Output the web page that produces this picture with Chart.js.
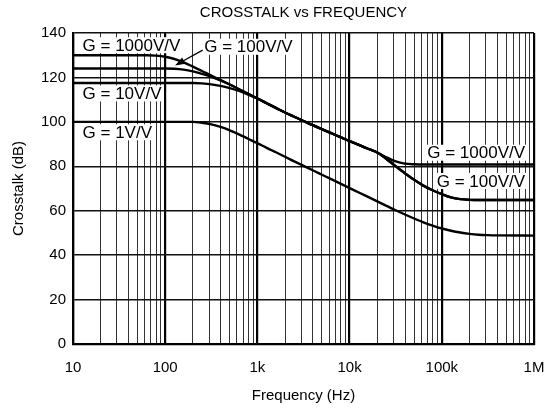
<!DOCTYPE html>
<html>
<head>
<meta charset="utf-8">
<script src="https://cdn.jsdelivr.net/npm/chart.js@4.4.0/dist/chart.umd.min.js"></script>
<style>
html, body { margin: 0; padding: 0; background: #fff; }
</style>
</head>
<body>
<canvas id="grafico" width="551" height="412"></canvas>
<script>
// frequencias (Hz) usadas por todas as curvas
const freq = [10, 63, 79, 100, 126, 158, 200, 251, 316, 398, 501, 631, 794,
  1000, 1259, 1585, 1995, 2512, 3162, 3981, 5012, 6310, 7943,
  10000, 12589, 15849, 19953, 25119, 31623, 39811, 50119, 63096, 79433,
  100000, 125893, 158489, 199526, 251189, 316228, 398107, 1000000];

// crosstalk (dB) para cada ganho
const g1000 = [130, 130, 129.8, 129.3, 128.3, 126.8, 124.9, 122.9, 120.8, 118.8, 116.8, 114.7, 112.6,
  110.5, 108.4, 106.3, 104.2, 102.3, 100.4, 98.5, 96.7, 94.9, 93.1,
  91.3, 89.6, 87.9, 86.2, 84.0, 82.2, 81.2, 80.9, 80.8, 80.8,
  80.8, 80.8, 80.8, 80.8, 80.8, 80.8, 80.8, 80.8];
const g100 = [124, 124, 124, 124, 123.9, 123.5, 122.7, 121.6, 120.3, 118.7, 116.8, 114.7, 112.6,
  110.5, 108.4, 106.3, 104.2, 102.3, 100.4, 98.5, 96.7, 94.9, 93.1,
  91.3, 89.6, 87.9, 86.2, 83.3, 80.0, 76.9, 73.9, 71.3, 69.2,
  67.5, 66.0, 65.2, 64.9, 64.8, 64.8, 64.8, 64.8];
const g10 = [117.5, 117.5, 117.5, 117.5, 117.5, 117.5, 117.5, 117.3, 116.9, 116.2, 115.2, 113.9, 112.3,
  110.5, 108.4, 106.3, 104.2, 102.3, 100.4, 98.5, 96.7, 94.9, 93.1,
  91.3, 89.6, 87.9, 86.2, 83.3, 80.0, 76.9, 73.9, 71.3, 69.2,
  67.5, 66.0, 65.2, 64.9, 64.8, 64.8, 64.8, 64.8];
const g1 = [100, 100, 100, 100, 100, 100, 100, 99.6, 98.9, 97.7, 96.2, 94.4, 92.4,
  90.4, 88.3, 86.3, 84.3, 82.2, 80.2, 78.2, 76.2, 74.2, 72.2,
  70.2, 68.2, 66.2, 64.2, 62.2, 60.2, 58.3, 56.5, 54.8, 53.3,
  52.0, 51.0, 50.2, 49.6, 49.2, 49.0, 48.9, 48.8];

// eixos
const decadas = [10, 100, 1000, 10000, 100000, 1000000];
const rotulosX = ['10', '100', '1k', '10k', '100k', '1M'];
const ticksY = [0, 20, 40, 60, 80, 100, 120, 140];

// linhas de grade do eixo x: 1..9 em cada decada
const ticksX = [];
decadas.forEach(function(d) {
    if (d === 1000000) { ticksX.push(d); return; }
    for (let k = 1; k <= 9; k++) ticksX.push(d * k);
});

const fonte = '"Liberation Sans", Arial, sans-serif';

// textos dos ganhos (posicao em coordenadas do grafico)
const rotulos = [
    { txt: 'G = 1000V/V', f: 12.7, db: 134.5, lado: 'esq' },
    { txt: 'G = 100V/V', f: 265, db: 133.8, lado: 'esq' },
    { txt: 'G = 10V/V', f: 12.7, db: 112.8, lado: 'esq' },
    { txt: 'G = 1V/V', f: 12.7, db: 95.3, lado: 'esq' },
    { txt: 'G = 1000V/V', f: 800000, db: 86.1, lado: 'dir' },
    { txt: 'G = 100V/V', f: 800000, db: 73.4, lado: 'dir' }
];

function serie(valores) {
    return {
        data: freq.map(function(f, i) { return { x: f, y: valores[i] }; }),
        borderColor: '#000',
        borderWidth: 2.4,
        pointRadius: 0,
        fill: false,
        cubicInterpolationMode: 'monotone'
    };
}

const anotacoes = {
    id: 'anotacoes',
    afterDatasetsDraw(chart) {
        const ctx = chart.ctx;
        const x = chart.scales.x, y = chart.scales.y;
        ctx.save();
        ctx.font = '17px ' + fonte;
        ctx.textBaseline = 'middle';
        ctx.textAlign = 'left';
        rotulos.forEach(function(r) {
            const w = ctx.measureText(r.txt).width;
            let px = x.getPixelForValue(r.f);
            const py = y.getPixelForValue(r.db);
            if (r.lado === 'dir') px -= w;
            ctx.fillStyle = '#fff';
            ctx.fillRect(px - 2, py - 8, w + 4, 16);
            ctx.fillStyle = '#000';
            ctx.fillText(r.txt, px, py + 1);
        });

        // seta apontando para a curva de G = 100V/V
        const x0 = x.getPixelForValue(255), y0 = y.getPixelForValue(132.3);
        const x1 = x.getPixelForValue(128), y1 = y.getPixelForValue(125.4);
        const ang = Math.atan2(y1 - y0, x1 - x0);
        ctx.strokeStyle = '#000';
        ctx.lineWidth = 1.3;
        ctx.beginPath();
        ctx.moveTo(x0, y0);
        ctx.lineTo(x1 - 6 * Math.cos(ang), y1 - 6 * Math.sin(ang));
        ctx.stroke();
        ctx.fillStyle = '#000';
        ctx.beginPath();
        ctx.moveTo(x1, y1);
        ctx.lineTo(x1 - 10 * Math.cos(ang) + 3.5 * Math.sin(ang), y1 - 10 * Math.sin(ang) - 3.5 * Math.cos(ang));
        ctx.lineTo(x1 - 10 * Math.cos(ang) - 3.5 * Math.sin(ang), y1 - 10 * Math.sin(ang) + 3.5 * Math.cos(ang));
        ctx.closePath();
        ctx.fill();

        // titulo
        const area = chart.chartArea;
        ctx.font = '15px ' + fonte;
        ctx.textAlign = 'center';
        ctx.fillText('CROSSTALK vs FREQUENCY', (area.left + area.right) / 2, 13);
        ctx.restore();
    }
};

const ctx = document.getElementById('grafico').getContext('2d');
const myChart = new Chart(ctx, {
    type: 'line',
    data: {
        datasets: [serie(g1000), serie(g100), serie(g10), serie(g1)]
    },
    options: {
        responsive: false,
        animation: false,
        devicePixelRatio: 1,
        layout: { padding: { top: 33, right: 17, left: 0, bottom: 0 } },
        plugins: { legend: { display: false }, tooltip: { enabled: false } },
        scales: {
            x: {
                type: 'logarithmic',
                min: 10,
                max: 1000000,
                afterBuildTicks: function(s) {
                    s.ticks = ticksX.map(function(v) { return { value: v }; });
                },
                afterFit: function(s) {
                    s.height = 68;
                    s.paddingLeft = 0;
                    s.paddingRight = 0;
                },
                ticks: {
                    autoSkip: false,
                    maxRotation: 0,
                    padding: 15,
                    color: '#000',
                    font: { size: 15, family: fonte },
                    callback: function(v) {
                        const i = decadas.indexOf(v);
                        return i >= 0 ? rotulosX[i] : '';
                    }
                },
                grid: {
                    drawTicks: false,
                    color: function(c) { return c.tick && decadas.includes(c.tick.value) ? '#000' : '#333'; },
                    lineWidth: function(c) { return c.tick && decadas.includes(c.tick.value) ? 2.2 : 1; }
                },
                border: { color: '#000', width: 2.2 },
                title: {
                    display: true,
                    text: 'Frequency (Hz)',
                    color: '#000',
                    font: { size: 15, family: fonte },
                    padding: { bottom: 7, top: 0 }
                }
            },
            y: {
                min: 0,
                max: 140,
                afterBuildTicks: function(s) {
                    s.ticks = ticksY.map(function(v) { return { value: v }; });
                },
                afterFit: function(s) {
                    s.width = 73;
                    s.paddingTop = 0;
                    s.paddingBottom = 0;
                },
                ticks: {
                    padding: 7,
                    color: '#000',
                    font: { size: 15, family: fonte }
                },
                grid: { drawTicks: false, color: '#111', lineWidth: 1.5 },
                border: { color: '#000', width: 2.2 },
                title: {
                    display: true,
                    text: 'Crosstalk (dB)',
                    color: '#000',
                    font: { size: 15, family: fonte },
                    padding: { top: 10, bottom: 0 }
                }
            }
        }
    },
    plugins: [anotacoes]
});
</script>
</body>
</html>
